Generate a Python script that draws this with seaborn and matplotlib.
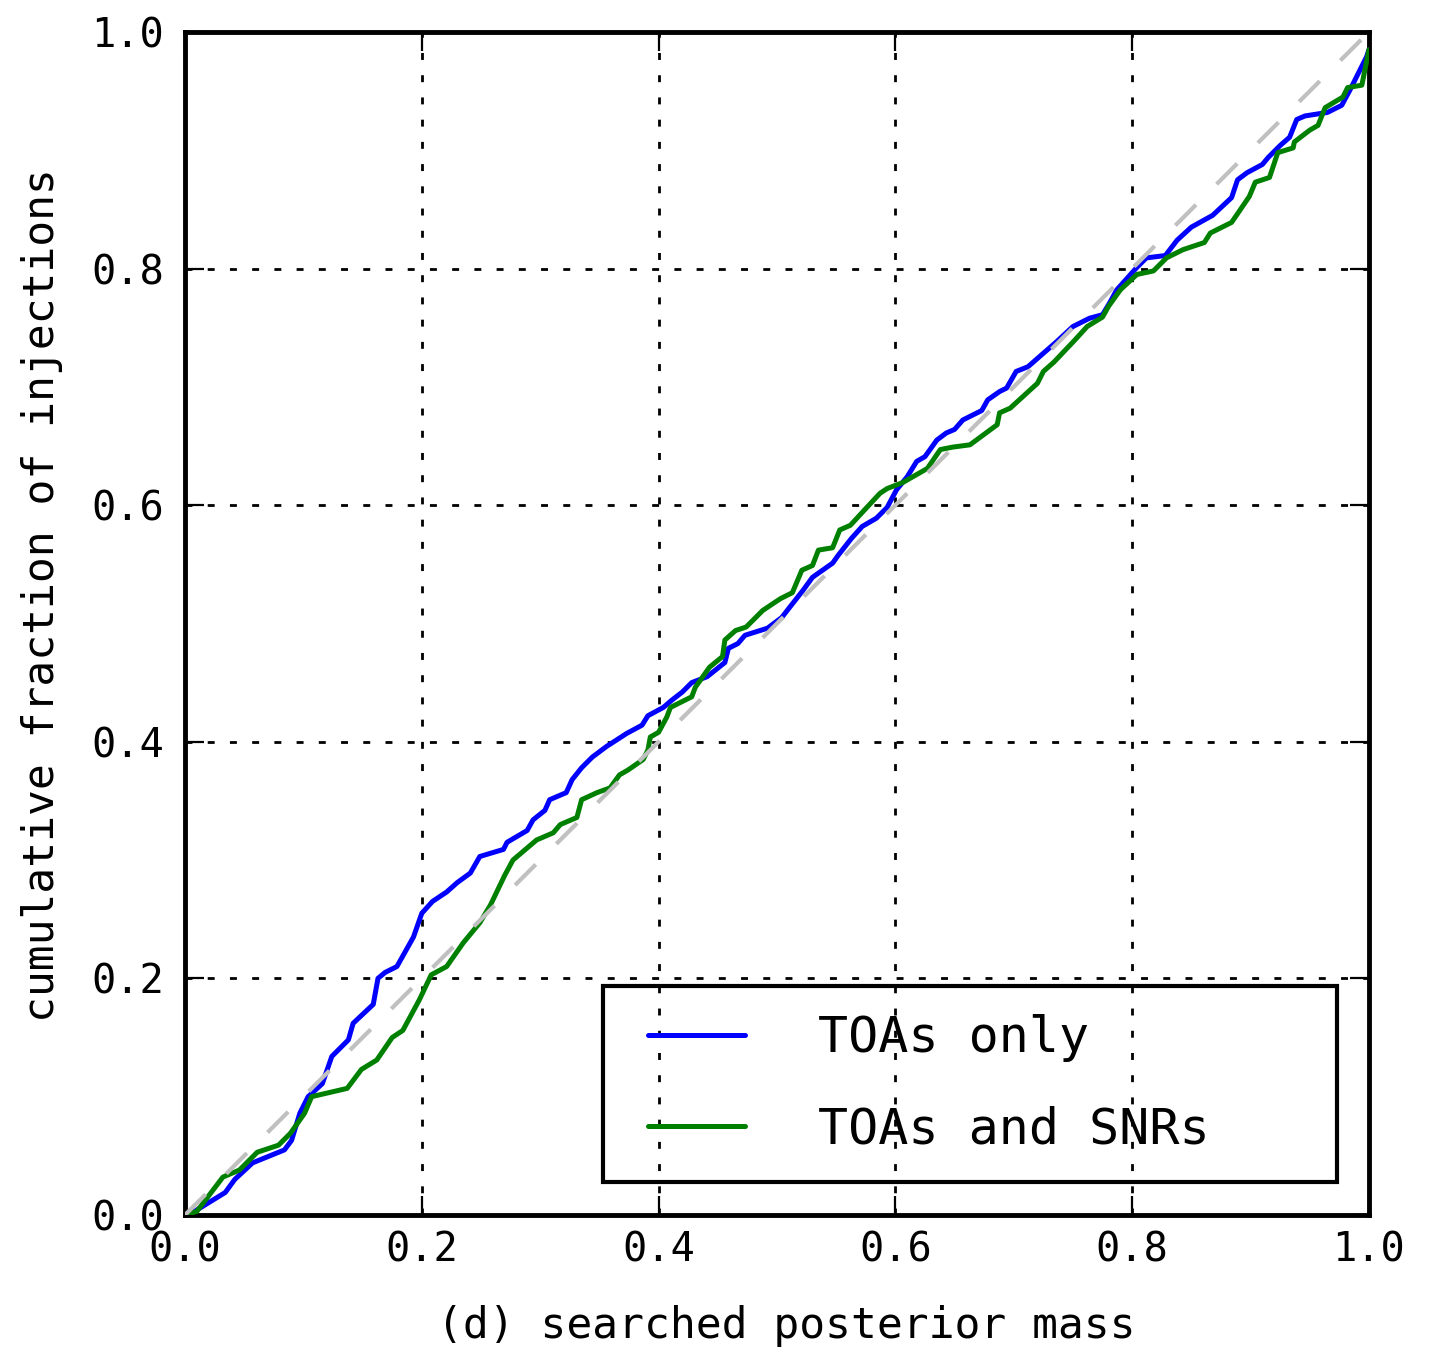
import numpy as np
import pandas as pd
import matplotlib
matplotlib.use("Agg")
import matplotlib.pyplot as plt
from matplotlib.lines import Line2D
from matplotlib.legend_handler import HandlerLine2D
import seaborn as sns

# ---- data ----
toa_x = [0, 0.008, 0.034, 0.042, 0.057, 0.084, 0.09, 0.097, 0.104, 0.116, 0.124, 0.138, 0.142, 0.159,
         0.163, 0.169, 0.179, 0.193, 0.2, 0.209, 0.221, 0.23, 0.241, 0.249, 0.269, 0.272, 0.289, 0.294,
         0.304, 0.308, 0.322, 0.327, 0.335, 0.344, 0.356, 0.373, 0.386, 0.391, 0.404, 0.411, 0.42, 0.428,
         0.441, 0.456, 0.459, 0.467, 0.473, 0.492, 0.504, 0.511, 0.522, 0.53, 0.547, 0.552, 0.563, 0.572,
         0.584, 0.593, 0.601, 0.61, 0.618, 0.625, 0.635, 0.643, 0.65, 0.657, 0.673, 0.678, 0.688, 0.694,
         0.702, 0.712, 0.728, 0.736, 0.75, 0.764, 0.775, 0.781, 0.787, 0.804, 0.812, 0.828, 0.838, 0.85,
         0.868, 0.884, 0.889, 0.897, 0.91, 0.915, 0.925, 0.933, 0.939, 0.946, 0.965, 0.977, 0.984, 0.998, 1.0]
toa_y = [0, 0.003, 0.019, 0.030, 0.044, 0.055, 0.063, 0.086, 0.1, 0.111, 0.134, 0.148, 0.162, 0.178,
         0.2, 0.205, 0.21, 0.235, 0.255, 0.265, 0.273, 0.281, 0.289, 0.303, 0.309, 0.315, 0.325, 0.334,
         0.342, 0.351, 0.357, 0.368, 0.378, 0.387, 0.396, 0.407, 0.414, 0.422, 0.429, 0.435, 0.442, 0.45,
         0.455, 0.467, 0.479, 0.483, 0.49, 0.496, 0.505, 0.514, 0.528, 0.539, 0.551, 0.558, 0.572, 0.582,
         0.589, 0.598, 0.613, 0.624, 0.637, 0.641, 0.655, 0.661, 0.664, 0.672, 0.68, 0.689, 0.696, 0.699,
         0.713, 0.717, 0.731, 0.738, 0.751, 0.758, 0.761, 0.771, 0.782, 0.801, 0.809, 0.811, 0.824, 0.835,
         0.845, 0.86, 0.875, 0.881, 0.888, 0.894, 0.904, 0.911, 0.926, 0.929, 0.932, 0.938, 0.951, 0.979, 0.985]

snr_x = [0, 0.01, 0.032, 0.046, 0.061, 0.079, 0.089, 0.101, 0.107, 0.137, 0.149, 0.162, 0.175, 0.184,
         0.198, 0.208, 0.221, 0.235, 0.249, 0.258, 0.27, 0.277, 0.297, 0.311, 0.317, 0.331, 0.335, 0.348,
         0.359, 0.367, 0.374, 0.387, 0.391, 0.393, 0.4, 0.407, 0.41, 0.428, 0.431, 0.443, 0.454, 0.456,
         0.465, 0.474, 0.488, 0.503, 0.513, 0.521, 0.53, 0.535, 0.547, 0.553, 0.562, 0.574, 0.587, 0.593,
         0.606, 0.627, 0.638, 0.648, 0.663, 0.686, 0.688, 0.697, 0.72, 0.725, 0.734, 0.752, 0.762, 0.775,
         0.78, 0.79, 0.804, 0.818, 0.829, 0.843, 0.861, 0.866, 0.884, 0.899, 0.904, 0.916, 0.923, 0.936,
         0.937, 0.95, 0.957, 0.963, 0.978, 0.982, 0.994, 0.998, 1.0]
snr_y = [0, 0.003, 0.032, 0.038, 0.053, 0.059, 0.069, 0.086, 0.1, 0.107, 0.123, 0.131, 0.15, 0.156,
         0.182, 0.203, 0.21, 0.23, 0.247, 0.262, 0.287, 0.3, 0.317, 0.323, 0.33, 0.336, 0.351, 0.357,
         0.361, 0.372, 0.376, 0.385, 0.393, 0.404, 0.408, 0.421, 0.429, 0.438, 0.446, 0.463, 0.472, 0.486,
         0.494, 0.497, 0.511, 0.521, 0.526, 0.545, 0.549, 0.562, 0.564, 0.579, 0.583, 0.596, 0.61, 0.614,
         0.619, 0.631, 0.647, 0.649, 0.651, 0.668, 0.678, 0.682, 0.703, 0.713, 0.721, 0.74, 0.751, 0.759,
         0.768, 0.782, 0.795, 0.798, 0.809, 0.816, 0.822, 0.83, 0.839, 0.861, 0.873, 0.877, 0.898, 0.902,
         0.907, 0.917, 0.921, 0.936, 0.945, 0.953, 0.955, 0.975, 0.985]

series_names = ["TOAs only", "TOAs and SNRs"]
series_colors = ["#0000ff", "#008000"]
x_ticks = [0.0, 0.2, 0.4, 0.6, 0.8, 1.0]
y_ticks = [0.0, 0.2, 0.4, 0.6, 0.8, 1.0]
x_label = "(d) searched posterior mass"
y_label = "cumulative fraction of injections"

df = pd.concat([
    pd.DataFrame({"x": toa_x, "y": toa_y, "series": series_names[0]}),
    pd.DataFrame({"x": snr_x, "y": snr_y, "series": series_names[1]}),
], ignore_index=True)

# ---- style ----
sns.set_style("white")
plt.rcParams["font.family"] = ["DejaVu Sans Mono", "DejaVu Sans"]
plt.rcParams["text.color"] = "black"
plt.rcParams["axes.labelcolor"] = "black"
plt.rcParams["xtick.color"] = "black"
plt.rcParams["ytick.color"] = "black"

fig = plt.figure(figsize=(14.33, 13.48), dpi=100)
ax = fig.add_axes([0.1291, 0.0987, 0.8262, 0.8776])

sns.lineplot(data=df, x="x", y="y", hue="series", hue_order=series_names,
             palette=dict(zip(series_names, series_colors)),
             sort=False, estimator=None, linewidth=3.6, ax=ax, zorder=3)

ax.axline((0, 0), slope=1, color="#c0c0c0", linestyle=(0, (7, 7)), linewidth=3.0, zorder=4)

ax.set_xlim(0, 1)
ax.set_ylim(0, 1)
ax.set_xticks(x_ticks)
ax.set_yticks(y_ticks)
ax.set_xticklabels([f"{v:.1f}" for v in x_ticks])
ax.set_yticklabels([f"{v:.1f}" for v in y_ticks])

ax.grid(True, color="black", linestyle=(0, (2.5, 5.5)), linewidth=2.0, zorder=1)
ax.set_axisbelow(True)

for sp in ax.spines.values():
    sp.set_visible(True)
    sp.set_color("black")
    sp.set_linewidth(3.5)

ax.tick_params(axis="both", which="major", direction="in", length=14, width=1.6,
               top=True, right=True, bottom=True, left=True, labelsize=29,
               color="black", labelcolor="black")
ax.tick_params(axis="y", pad=15)
ax.tick_params(axis="x", pad=11)

ax.set_xlabel(x_label, fontsize=31, color="black")
ax.set_ylabel(y_label, fontsize=31, color="black")
ax.xaxis.set_label_coords(0.508, -0.076)
ax.yaxis.set_label_coords(-0.103, 0.524)

handles, labels = ax.get_legend_handles_labels()
leg = ax.legend(handles, labels, loc="lower left",
                bbox_to_anchor=(0.353, 0.028, 0.620, 0.1665), mode="expand",
                borderaxespad=0, fontsize=36, frameon=True, fancybox=False,
                shadow=False, handlelength=2.28, handletextpad=1.46,
                labelspacing=0.87, borderpad=0.565, framealpha=1,
                handler_map={Line2D: HandlerLine2D(xpad=0.34)})
frame = leg.get_frame()
frame.set_facecolor("none")
frame.set_edgecolor("black")
frame.set_linewidth(3.0)
for lh in leg.get_lines():
    lh.set_linewidth(3.6)
for t in leg.get_texts():
    t.set_color("black")

fig.savefig("out.png", dpi=100, facecolor="white")
